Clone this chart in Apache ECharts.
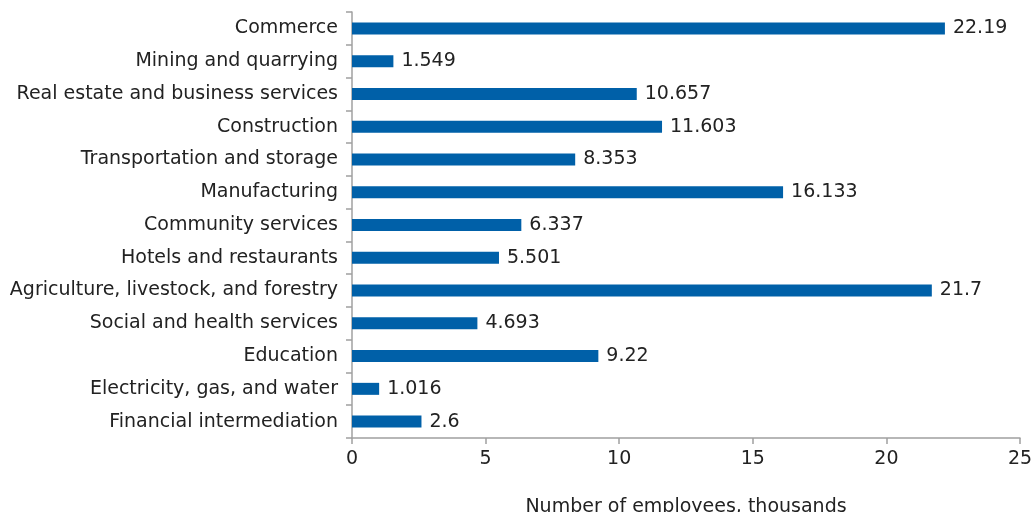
<!DOCTYPE html>
<html><head><meta charset="utf-8">
<script src="https://cdn.jsdelivr.net/npm/echarts@6/dist/echarts.min.js"></script>
<style>html,body{margin:0;padding:0;background:#fff}#c{width:1035px;height:512px}</style>
</head><body><div id="c"></div>
<script>
const categories = ["Commerce","Mining and quarrying","Real estate and business services","Construction","Transportation and storage","Manufacturing","Community services","Hotels and restaurants","Agriculture, livestock, and forestry","Social and health services","Education","Electricity, gas, and water","Financial intermediation"];
const values = [22.19,1.549,10.657,11.603,8.353,16.133,6.337,5.501,21.7,4.693,9.22,1.016,2.6];
const xTicks = [0,5,10,15,20,25];
const axisTitle = "Number of employees, thousands";

const cats = categories.slice().reverse();
const vals = values.slice().reverse();
const font = "'DejaVu Sans', sans-serif";
const fs = 19;
const chart = echarts.init(document.getElementById('c'));
chart.setOption({
  animation:false,
  grid:{left:352,right:15,top:12,bottom:74,containLabel:false,outerBoundsMode:'none'},
  xAxis:{type:'value',min:xTicks[0],max:xTicks[xTicks.length-1],interval:5,
    name:axisTitle,nameLocation:'middle',nameGap:60,
    nameTextStyle:{fontFamily:font,fontSize:fs,color:'#222'},
    axisLine:{show:true,lineStyle:{color:'#a0a0a0',width:1.5}},
    axisTick:{show:true,length:6,lineStyle:{color:'#a0a0a0',width:1.5}},
    axisLabel:{fontFamily:font,fontSize:fs,color:'#222',margin:12},
    splitLine:{show:false}},
  yAxis:{type:'category',data:cats,
    axisLine:{show:true,lineStyle:{color:'#a0a0a0',width:1.5}},
    axisTick:{show:true,length:6,inside:false,lineStyle:{color:'#a0a0a0',width:1.5}},
    axisLabel:{fontFamily:font,fontSize:fs,color:'#222',margin:14}},
  series:[{type:'bar',data:vals,barWidth:12,itemStyle:{color:'#0060a8'},
    label:{show:true,position:'right',distance:8,fontFamily:font,fontSize:fs,color:'#222',
      formatter:p=>String(p.value)}}]
});
</script></body></html>
